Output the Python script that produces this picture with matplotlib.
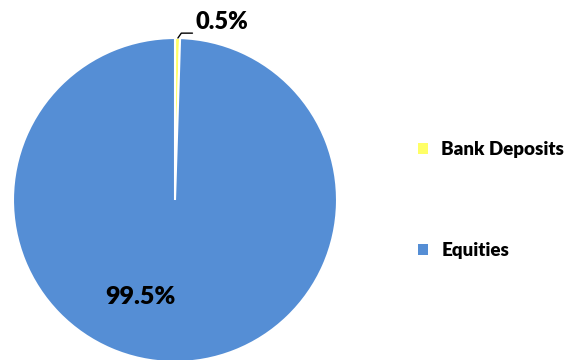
import matplotlib
matplotlib.use('Agg')
from matplotlib import pyplot as plt
from matplotlib.patches import Patch

# data
labels = ['Bank Deposits', 'Equities']
shares = [0.5, 99.5]
colors = ['#FFFF66', '#558ED5']

plt.rcParams['font.family'] = ['Lato', 'DejaVu Sans']

fig = plt.figure(figsize=(5.66, 3.6), dpi=100)
# pie centre ~ (175, 200) px, radius ~162 px
ax = fig.add_axes([13 / 566, (360 - 362) / 360, 324 / 566, 324 / 360])
wedges, _ = ax.pie(shares, colors=colors, startangle=90, counterclock=False,
                   wedgeprops=dict(edgecolor='white', linewidth=1.5))
ax.set_xlim(-1, 1)
ax.set_ylim(-1, 1)
ax.set_aspect('equal')
ax.axis('off')

# labels
ax.annotate(f'{shares[0]}%', xy=(0.018, 1.0), xytext=(0.125, 1.03),
            fontsize=17, fontweight='heavy', va='bottom', ha='left',
            annotation_clip=False,
            arrowprops=dict(arrowstyle='-', color='black', lw=1.0,
                            relpos=(0, 0), shrinkA=0, shrinkB=0,
                            connectionstyle='angle,angleA=0,angleB=55,rad=0'))
ax.text(-0.215, -0.6, f'{shares[1]}%', fontsize=18, fontweight='heavy',
        ha='center', va='center')

handles = [Patch(facecolor=c, edgecolor='none') for c in colors]
fig.legend(handles, labels, loc='upper left', bbox_to_anchor=(401 / 566, 1 - 124 / 360),
           frameon=False, prop=dict(size=13.5, weight='heavy'),
           handlelength=0.55, handleheight=0.55, handletextpad=0.7, labelspacing=4.5)

fig.savefig('out.png', dpi=100)
